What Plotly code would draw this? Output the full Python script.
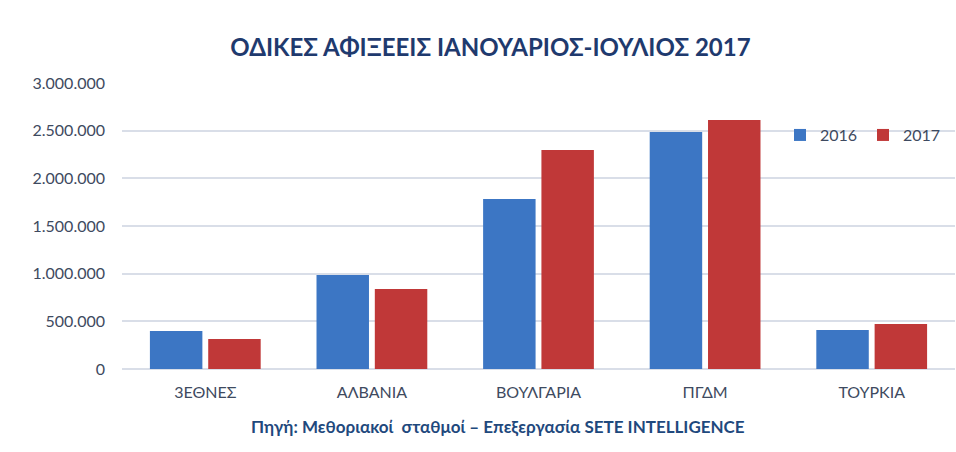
import plotly.graph_objects as go

categories = ["3ΕΘΝΕΣ", "ΑΛΒΑΝΙΑ", "ΒΟΥΛΓΑΡΙΑ", "ΠΓΔΜ", "ΤΟΥΡΚΙΑ"]
values_2016 = [398000, 986000, 1783000, 2486000, 409000]
values_2017 = [315000, 839000, 2297000, 2612000, 472000]
tick_vals = [0, 500000, 1000000, 1500000, 2000000, 2500000, 3000000]
tick_text = ["0", "500.000", "1.000.000", "1.500.000", "2.000.000", "2.500.000", "3.000.000"]

FONT = "Lato"
TXT = "#3E4A60"

fig = go.Figure()
fig.add_trace(go.Bar(name="2016", x=categories, y=values_2016,
                     marker=dict(color="#3C76C4", line=dict(width=0))))
fig.add_trace(go.Bar(name="2017", x=categories, y=values_2017,
                     marker=dict(color="#C03838", line=dict(width=0))))

fig.update_layout(
    width=956, height=452,
    margin=dict(l=122, r=1, t=83, b=83, autoexpand=False),
    paper_bgcolor="white", plot_bgcolor="white",
    barmode="group", bargap=0.3, bargroupgap=0.1,
    font=dict(family=FONT, color=TXT, size=16),
    title=dict(text="<b>ΟΔΙΚΕΣ ΑΦΙΞΕΕΙΣ ΙΑΝΟΥΑΡΙΟΣ-ΙΟΥΛΙΟΣ 2017</b>",
               x=0.513, xanchor="center", y=0.895, yanchor="middle",
               font=dict(family=FONT, size=24, color="#1F3A6E", weight=900)),
    legend=dict(orientation="h", x=(780 - 122) / 833, xanchor="left", y=0.818, yanchor="middle",
                font=dict(size=16, color=TXT), bgcolor="rgba(0,0,0,0)",
                itemsizing="constant", entrywidth=38, traceorder="normal"),
    xaxis=dict(showgrid=False, showline=False, ticks="", ticklabelstandoff=12,
               tickfont=dict(size=16, color=TXT), fixedrange=True),
    yaxis=dict(range=[0, 3000000], tickvals=tick_vals, ticktext=tick_text,
               showgrid=True, gridcolor="#D9DEE8", gridwidth=1.5,
               zeroline=True, zerolinecolor="#D9DEE8", zerolinewidth=1.5,
               showline=False, ticks="", ticklabelstandoff=16,
               tickfont=dict(size=16, color=TXT), fixedrange=True),
    annotations=[dict(text="<b>Πηγή: Μεθοριακοί  σταθμοί – Επεξεργασία SETE INTELLIGENCE</b>",
                      xref="paper", yref="paper", x=(498 - 122) / 833, y=-0.2, xanchor="center",
                      yanchor="middle", showarrow=False,
                      font=dict(family=FONT, size=17, color="#1F497D"))],
)

fig.write_html("out.html")
